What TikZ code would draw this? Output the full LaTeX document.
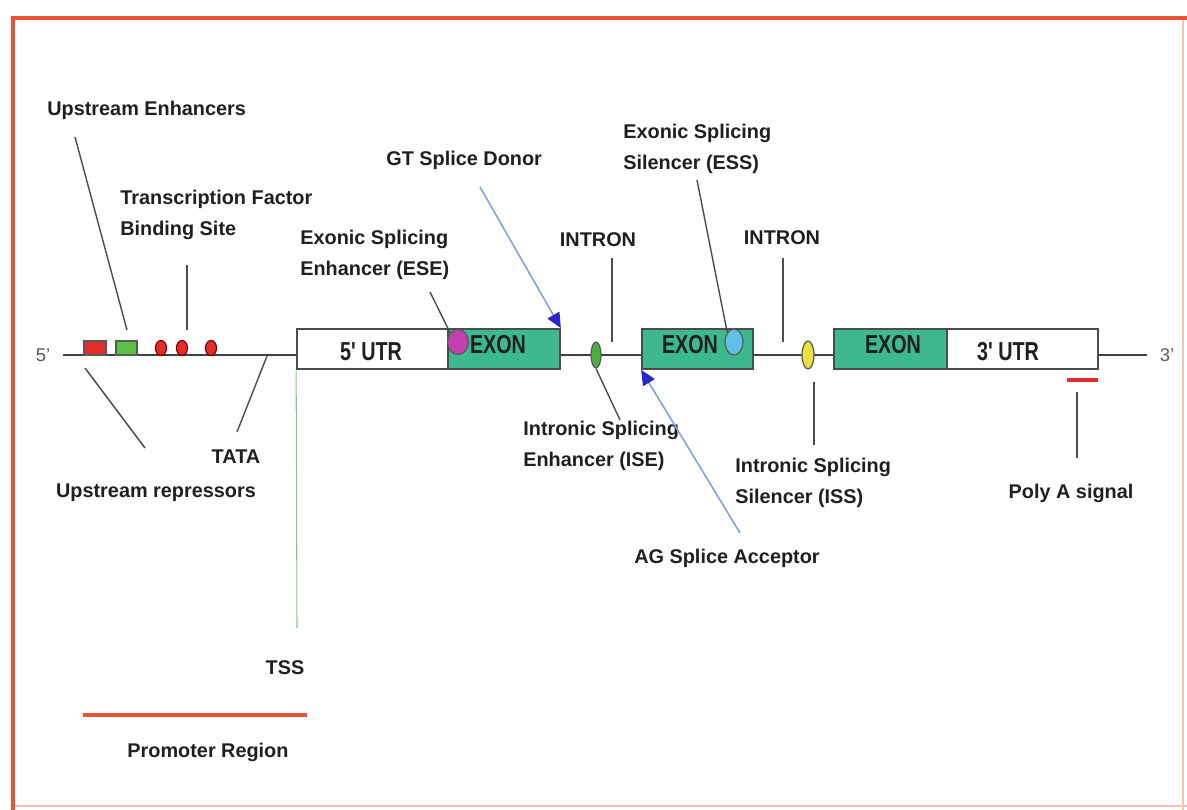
\documentclass[tikz,border=0pt]{standalone}
\usepackage{fontspec}
\setmainfont{Liberation Sans}
\newfontfamily\narrowfont{Liberation Sans}[FakeStretch=0.76]
\usetikzlibrary{arrows.meta,shapes.geometric}
\definecolor{exongreen}{RGB}{62,184,142}
\definecolor{framered}{RGB}{232,84,52}
\definecolor{sitered}{RGB}{228,44,40}
\definecolor{sitegreen}{RGB}{92,192,74}
\definecolor{esepink}{RGB}{196,64,178}
\definecolor{esscyan}{RGB}{96,192,232}
\definecolor{isegreen}{RGB}{72,176,64}
\definecolor{issyellow}{RGB}{232,224,64}
\definecolor{arrowblue}{RGB}{40,40,200}
\definecolor{linkblue}{RGB}{130,160,225}
\begin{document}
\begin{tikzpicture}[x=0.02cm, y=-0.02cm,
  lbl/.style={font=\fontsize{11.3}{17.6}\selectfont\bfseries, text=black!88, inner sep=0pt, align=left},
  boxtxt/.style={font=\narrowfont\fontsize{14.8}{16}\selectfont\bfseries, text=black!88, inner sep=0pt},
  endtxt/.style={font=\fontsize{10.5}{12}\selectfont, text=black!65, inner sep=0pt},
  region/.style={draw=black!70, line width=1pt, minimum height=0.8cm, inner sep=0pt},
  exon/.style={region, fill=exongreen},
  utr/.style={region, fill=white},
  dna/.style={black!75, line width=1pt},
  pointer/.style={black!70, line width=0.8pt},
  site/.style={ellipse, draw=black!65, line width=0.7pt, inner sep=0pt},
  splice/.style={-{Triangle[length=0.3cm, width=0.27cm, color=arrowblue]}, draw=linkblue, line width=0.9pt}]
  \useasboundingbox (0,0) rectangle (1187,810);
  \draw[framered!35, line width=0.8pt] (1183,18) -- (1183,810) (13,806) -- (1187,806);
  \draw[framered, line width=2.8pt] (11,18) -- (1187,18);
  \draw[framered, line width=2.3pt] (13,17) -- (13,810);

  \node[utr, minimum width=3.04cm] (utr5) at (373,349) {};
  \node[exon, minimum width=2.24cm] (exon1) at (504,349) {};
  \node[exon, minimum width=2.22cm] (exon2) at (697.5,349) {};
  \node[exon, minimum width=2.26cm] (exon3) at (890.5,349) {};
  \node[utr, minimum width=3.02cm] (utr3) at (1022.5,349) {};
  \node[boxtxt] at (371,352) {5' UTR};
  \node[boxtxt] at (498,345) {EXON};
  \node[boxtxt] at (690,345) {EXON};
  \node[boxtxt] at (893,345) {EXON};
  \node[boxtxt] at (1008,352) {3' UTR};

  \coordinate (end5) at (63,355);
  \coordinate (end3) at (1147,355);
  \node[endtxt] (five) at (43,355) {5'};
  \node[endtxt] (three) at (1167,355) {3'};
  \draw[dna] (end5) -- (end5 -| utr5.west);
  \draw[dna] (end5 -| exon1.east) -- (end5 -| exon2.west);
  \draw[dna] (end5 -| exon2.east) -- (end5 -| exon3.west);
  \draw[dna] (end5 -| utr3.east) -- (end3);

  \node[draw=black!65, fill=sitered, line width=0.6pt, minimum width=0.44cm, minimum height=0.28cm, inner sep=0pt] (rep) at (95,348) {};
  \node[draw=black!65, fill=sitegreen, line width=0.6pt, minimum width=0.42cm, minimum height=0.28cm, inner sep=0pt] (enh) at (126.5,348) {};
  \foreach \x/\n in {161/tf1, 182/tf2, 211/tf3}
    \node[site, draw=red!50!black, fill=sitered, minimum width=0.22cm, minimum height=0.3cm] (\n) at (\x,348) {};
  \node[site, fill=esepink, minimum width=0.42cm, minimum height=0.5cm] (ese) at (458,342) {};
  \node[site, fill=esscyan, minimum width=0.36cm, minimum height=0.52cm] (ess) at (734,342) {};
  \node[site, fill=isegreen, minimum width=0.2cm, minimum height=0.52cm] (ise) at (596,355) {};
  \node[site, fill=issyellow, minimum width=0.24cm, minimum height=0.56cm] (iss) at (808,355) {};
  \draw[sitered, line width=2.3pt] (1067,380) -- (1098,380);
  \draw[framered, line width=2.8pt] (83,715) -- (307,715);

  \node[lbl, anchor=west] (lenh) at (47,110) {Upstream Enhancers};
  \node[lbl, anchor=west] (ltf) at (120,215) {Transcription Factor\\Binding Site};
  \node[lbl, anchor=west] (lese) at (300,255) {Exonic Splicing\\Enhancer (ESE)};
  \node[lbl, anchor=west] (lgt) at (386,160) {GT Splice Donor};
  \node[lbl] (lint1) at (598,240) {INTRON};
  \node[lbl, anchor=west] (less) at (623,149) {Exonic Splicing\\Silencer (ESS)};
  \node[lbl] (lint2) at (782,238) {INTRON};
  \node[lbl, anchor=west] (lise) at (523,446) {Intronic Splicing\\Enhancer (ISE)};
  \node[lbl, anchor=west] (liss) at (735,483) {Intronic Splicing\\Silencer (ISS)};
  \node[lbl] (lag) at (727,558) {AG Splice Acceptor};
  \node[lbl] (lpoly) at (1071,493) {Poly A signal};
  \node[lbl] (ltata) at (236,457) {TATA};
  \node[lbl] (lrep) at (156,493) {Upstream repressors};
  \node[lbl] (ltss) at (285,668) {TSS};
  \node[lbl] (lprom) at (208,752) {Promoter Region};

  \coordinate (penh) at (75,137);   \coordinate (penh2) at (127,330);
  \coordinate (ptf) at (187,265);   \coordinate (ptf2) at (187,330);
  \coordinate (prep) at (85,368);   \coordinate (prep2) at (145,448);
  \coordinate (ptata) at (267,356); \coordinate (ptata2) at (237,432);
  \coordinate (pese) at (430,292);
  \coordinate (pint1) at (612,258); \coordinate (pint1b) at (612,342);
  \coordinate (pint2) at (783,258); \coordinate (pint2b) at (783,342);
  \coordinate (pess) at (697,180);
  \coordinate (pise) at (620,420);
  \coordinate (piss) at (814,382); \coordinate (piss2) at (814,445);
  \coordinate (ppoly) at (1077,392); \coordinate (ppoly2) at (1077,458);
  \coordinate (pgt) at (480,187);
  \coordinate (pag) at (740,533);
  \coordinate (ptss) at (297,628);

  \draw[pointer] (penh) -- (penh2);
  \draw[pointer] (ptf) -- (ptf2);
  \draw[pointer] (prep) -- (prep2);
  \draw[pointer] (ptata) -- (ptata2);
  \draw[pointer] (pese) -- (ese.north west);
  \draw[pointer] (pint1) -- (pint1b);
  \draw[pointer] (pint2) -- (pint2b);
  \draw[pointer] (pess) -- (ess.north west);
  \draw[pointer] (ise.south) -- (pise);
  \draw[pointer] (piss) -- (piss2);
  \draw[pointer] (ppoly) -- (ppoly2);
  \draw[green!60!black!50, line width=0.6pt] (utr5.south west) -- (ptss);
  \draw[splice] (pgt) -- (exon1.north east);
  \draw[splice] (pag) -- (exon2.south west);
\end{tikzpicture}
\end{document}
